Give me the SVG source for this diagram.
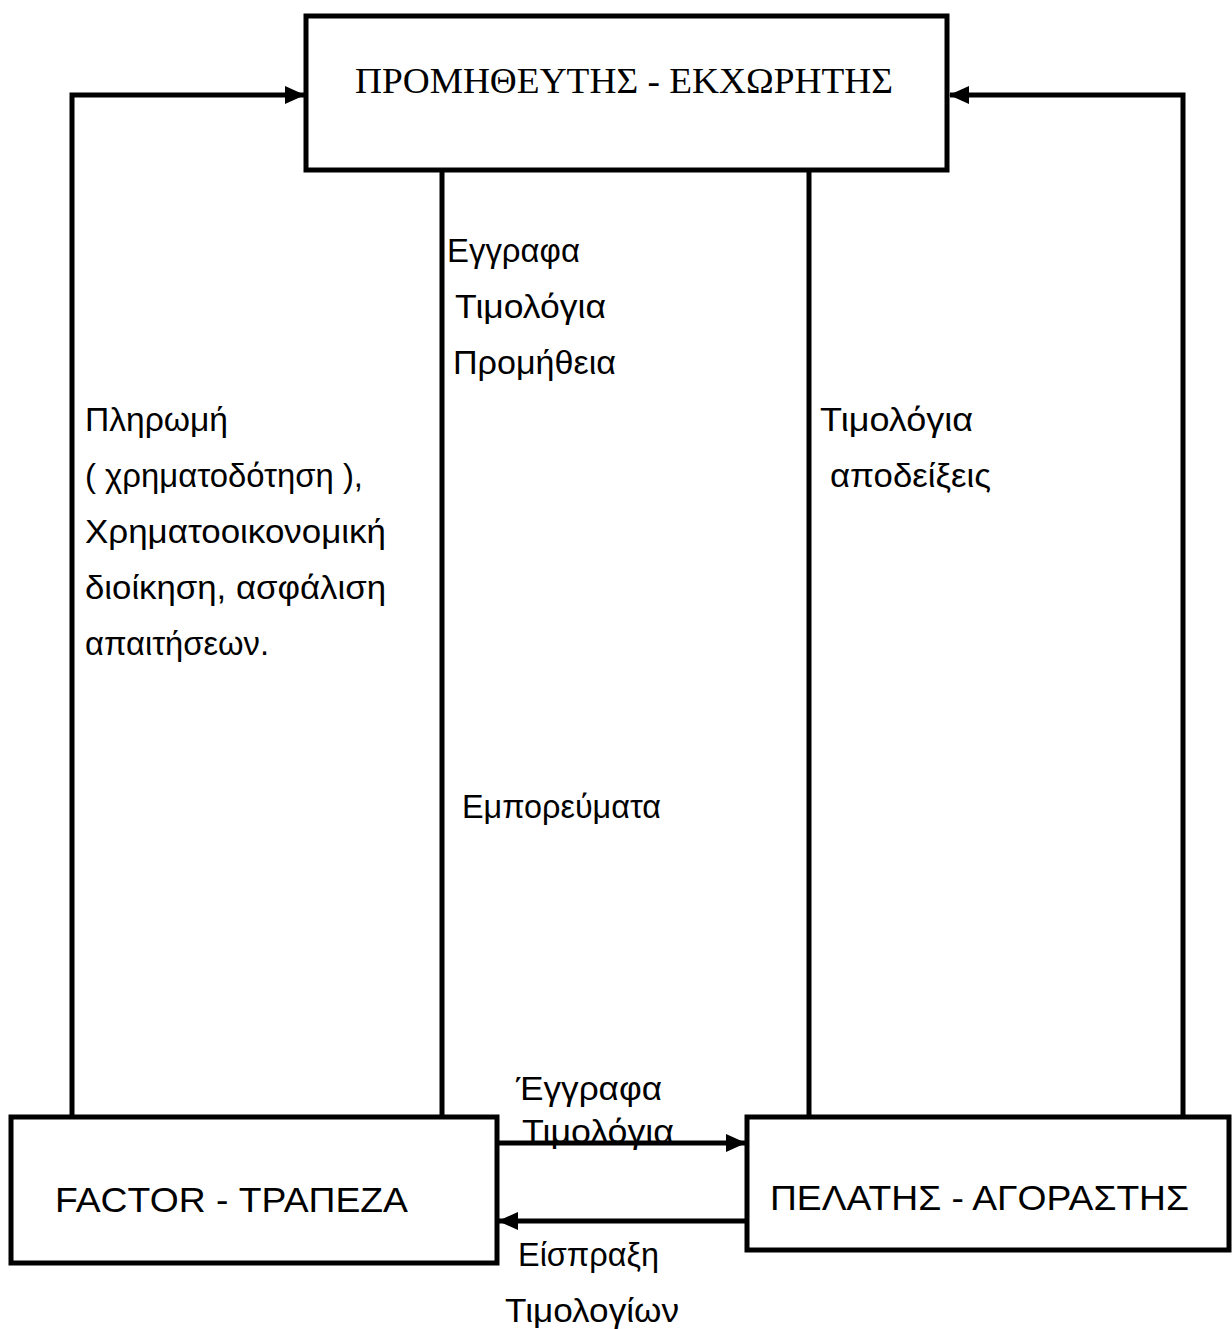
<svg xmlns="http://www.w3.org/2000/svg" width="1232" height="1329" viewBox="0 0 1232 1329">
<style>
.box{fill:#fff;stroke:#000;stroke-width:5}
.ln{fill:none;stroke:#000;stroke-width:5}
.t{font-family:"Liberation Sans","DejaVu Sans",sans-serif;font-size:33px;fill:#000}
.b{font-family:"Liberation Sans","DejaVu Sans",sans-serif;font-size:35px;fill:#000}
.tt{font-family:"Liberation Serif","DejaVu Serif",serif;font-size:36px;fill:#000}
</style>
<defs>
<marker id="ah2" markerWidth="20" markerHeight="18" refX="19" refY="9" orient="auto" markerUnits="userSpaceOnUse" viewBox="0 0 20 18">
<path d="M0,0 L20,9 L0,18 Z" fill="#000"/>
</marker>
</defs>
<g id="connectors">
<path class="ln" d="M72,1117 V95 H304" marker-end="url(#ah2)"/>
<path class="ln" d="M1183,1117 V95 H950" marker-end="url(#ah2)"/>
<path class="ln" d="M442,170 V1117"/>
<path class="ln" d="M809,170 V1117"/>
<path class="ln" d="M497,1143 H745" marker-end="url(#ah2)"/>
<path class="ln" d="M747,1221 H499" marker-end="url(#ah2)"/>
</g>
<g id="supplier">
<rect class="box" x="306" y="16" width="641" height="154"/>
<text class="tt" x="355" y="93" textLength="538" lengthAdjust="spacingAndGlyphs">ΠΡΟΜΗΘΕΥΤΗΣ - ΕΚΧΩΡΗΤΗΣ</text>
</g>
<g id="factor">
<rect class="box" x="11" y="1117" width="486" height="146"/>
<text class="b" x="55" y="1212" textLength="353" lengthAdjust="spacingAndGlyphs">FACTOR - ΤΡΑΠΕΖΑ</text>
</g>
<g id="buyer">
<rect class="box" x="747" y="1117" width="482" height="133"/>
<text class="b" x="770" y="1210" textLength="419" lengthAdjust="spacingAndGlyphs">ΠΕΛΑΤΗΣ - ΑΓΟΡΑΣΤΗΣ</text>
</g>
<g id="labels">
<text class="t" x="447" y="262" textLength="133" lengthAdjust="spacingAndGlyphs">Εγγραφα</text>
<text class="t" x="455" y="318" textLength="151" lengthAdjust="spacingAndGlyphs">Τιμολόγια</text>
<text class="t" x="453" y="374" textLength="163" lengthAdjust="spacingAndGlyphs">Προμήθεια</text>
<text class="t" x="85" y="431" textLength="143" lengthAdjust="spacingAndGlyphs">Πληρωμή</text>
<text class="t" x="85" y="487" textLength="278" lengthAdjust="spacingAndGlyphs">( χρηματοδότηση ),</text>
<text class="t" x="85" y="543" textLength="301" lengthAdjust="spacingAndGlyphs">Χρηματοοικονομική</text>
<text class="t" x="85" y="599" textLength="301" lengthAdjust="spacingAndGlyphs">διοίκηση, ασφάλιση</text>
<text class="t" x="85" y="655" textLength="184" lengthAdjust="spacingAndGlyphs">απαιτήσεων.</text>
<text class="t" x="462" y="818" textLength="199" lengthAdjust="spacingAndGlyphs">Εμπορεύματα</text>
<text class="t" x="820" y="431" textLength="153" lengthAdjust="spacingAndGlyphs">Τιμολόγια</text>
<text class="t" x="830" y="487" textLength="161" lengthAdjust="spacingAndGlyphs">αποδείξεις</text>
<text class="t" x="516" y="1100" textLength="146" lengthAdjust="spacingAndGlyphs">Έγγραφα</text>
<text class="t" x="522" y="1143" textLength="152" lengthAdjust="spacingAndGlyphs">Τιμολόγια</text>
<text class="t" x="518" y="1266" textLength="141" lengthAdjust="spacingAndGlyphs">Είσπραξη</text>
<text class="t" x="505" y="1322" textLength="174" lengthAdjust="spacingAndGlyphs">Τιμολογίων</text>
</g>
</svg>
